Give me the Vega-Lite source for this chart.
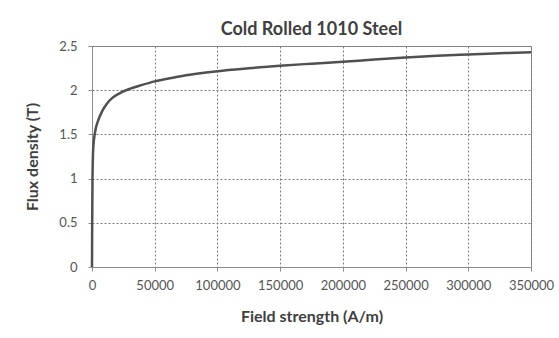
{
  "$schema": "https://vega.github.io/schema/vega-lite/v6.json",
  "autosize": {"type": "none"},
  "width": 439,
  "height": 221,
  "padding": {"left": 92, "top": 46, "right": 28, "bottom": 71},
  "background": "white",
  "title": {
    "text": "Cold Rolled 1010 Steel",
    "font": "Lato",
    "fontSize": 18,
    "fontWeight": "bold",
    "color": "#404040",
    "anchor": "middle",
    "offset": 1
  },
  "data": {
    "values": [
      {"H": 0, "B": 0},
      {"H": 150, "B": 0.5},
      {"H": 400, "B": 1.0},
      {"H": 1000, "B": 1.35},
      {"H": 2500, "B": 1.53},
      {"H": 5000, "B": 1.66},
      {"H": 8000, "B": 1.76},
      {"H": 12000, "B": 1.85},
      {"H": 16000, "B": 1.91},
      {"H": 22000, "B": 1.965},
      {"H": 30000, "B": 2.015},
      {"H": 40000, "B": 2.06},
      {"H": 50000, "B": 2.1},
      {"H": 60000, "B": 2.13},
      {"H": 75000, "B": 2.17},
      {"H": 100000, "B": 2.215},
      {"H": 125000, "B": 2.248},
      {"H": 150000, "B": 2.277},
      {"H": 175000, "B": 2.3},
      {"H": 200000, "B": 2.322},
      {"H": 225000, "B": 2.347},
      {"H": 250000, "B": 2.37},
      {"H": 275000, "B": 2.39},
      {"H": 300000, "B": 2.405},
      {"H": 325000, "B": 2.418},
      {"H": 350000, "B": 2.43}
    ]
  },
  "mark": {"type": "line", "color": "#505050", "strokeWidth": 2.5, "interpolate": "monotone"},
  "encoding": {
    "x": {
      "field": "H",
      "type": "quantitative",
      "scale": {"domain": [0, 350000], "nice": false},
      "axis": {
        "title": "Field strength (A/m)",
        "values": [0, 50000, 100000, 150000, 200000, 250000, 300000, 350000],
        "format": "d",
        "labelFlush": false,
        "labelOverlap": false,
        "titlePadding": 16
      }
    },
    "y": {
      "field": "B",
      "type": "quantitative",
      "scale": {"domain": [0, 2.5], "nice": false},
      "axis": {
        "title": "Flux density (T)",
        "values": [0, 0.5, 1, 1.5, 2, 2.5],
        "format": "~g",
        "labelFlush": false,
        "labelPadding": 11,
        "titlePadding": 18
      }
    }
  },
  "config": {
    "view": {"stroke": "#8c8c8c", "strokeWidth": 1},
    "axis": {
      "labelFont": "Lato",
      "labelFontSize": 13,
      "labelColor": "#555555",
      "labelPadding": 8,
      "titleFont": "Lato",
      "titleFontSize": 16,
      "titleFontWeight": "bold",
      "titleColor": "#404040",
      "domainColor": "#8c8c8c",
      "tickColor": "#8c8c8c",
      "tickSize": 4,
      "gridColor": "#7a7a7a",
      "gridDash": [2, 2],
      "gridWidth": 1,
      "gridOpacity": 1
    }
  }
}
